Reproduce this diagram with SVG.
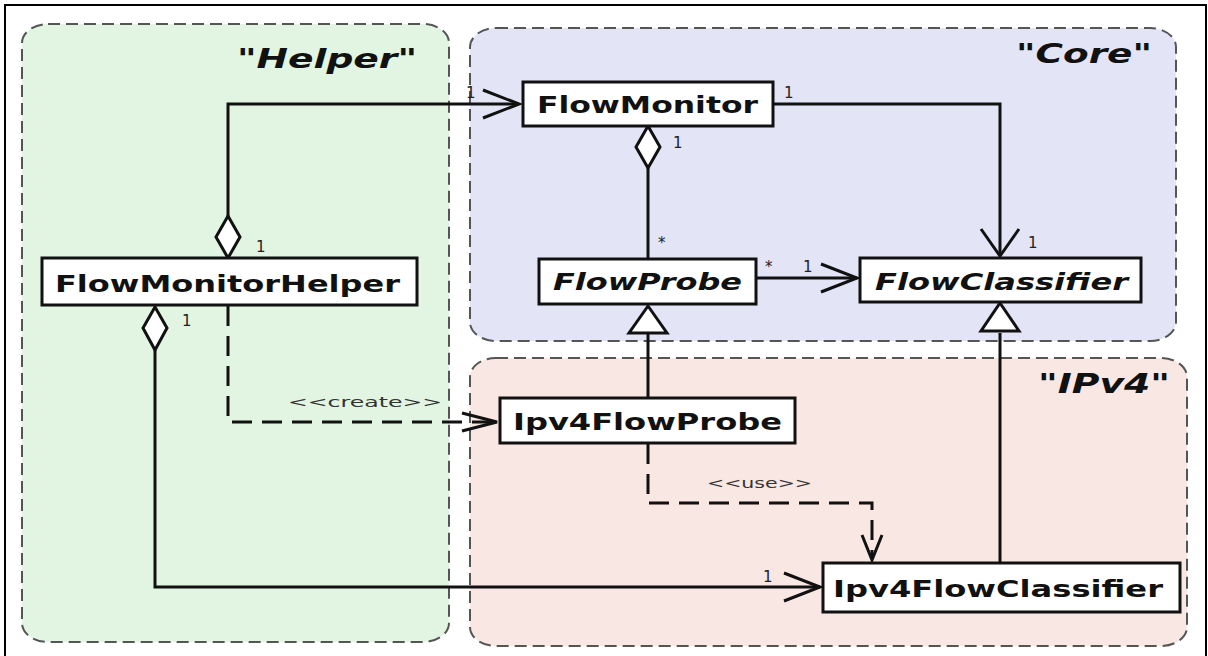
<svg xmlns="http://www.w3.org/2000/svg" width="1208" height="656" viewBox="0 0 1208 656">
  <style>
    .pkg { stroke: #555555; stroke-width: 2; stroke-dasharray: 12 6; }
    .pkg-label { font-family: "DejaVu Sans", "Liberation Sans", sans-serif; font-size: 27px; font-weight: bold; font-style: italic; fill: #111; }
    .box { fill: #ffffff; stroke: #111; stroke-width: 3; }
    .cls { font-family: "DejaVu Sans", "Liberation Sans", sans-serif; font-size: 23px; font-weight: bold; fill: #111; }
    .abstract { font-style: italic; }
    .edge { fill: none; stroke: #111; stroke-width: 3; }
    .dashed { stroke-dasharray: 20 10; }
    .head { fill: none; stroke: #111; stroke-width: 3; stroke-linejoin: miter; }
    .hollow { fill: #ffffff; stroke: #111; stroke-width: 3; stroke-linejoin: miter; }
    .mult { font-family: "DejaVu Sans", "Liberation Sans", sans-serif; font-size: 15px; fill: #222; }
    .stereo { font-family: "DejaVu Sans", "Liberation Sans", sans-serif; font-size: 14px; fill: #333; }
  </style>

  <rect x="0" y="0" width="1208" height="656" fill="#ffffff"/>
  <!-- outer frame -->
  <rect x="5" y="5" width="1201" height="662" fill="none" stroke="#000" stroke-width="2"/>

  <!-- packages -->
  <g id="pkg-helper">
    <rect class="pkg" x="22" y="24" width="427" height="618" rx="26" ry="19" fill="#e1f5e2"/>
    <text class="pkg-label" x="237" y="68" textLength="180" lengthAdjust="spacingAndGlyphs">"Helper"</text>
  </g>
  <g id="pkg-core">
    <rect class="pkg" x="470" y="28" width="706" height="313" rx="26" ry="19" fill="#e3e4f6"/>
    <text class="pkg-label" x="1016" y="63" textLength="136" lengthAdjust="spacingAndGlyphs">"Core"</text>
  </g>
  <g id="pkg-ipv4">
    <rect class="pkg" x="470" y="358" width="717" height="288" rx="26" ry="19" fill="#f9e7e4"/>
    <text class="pkg-label" x="1038" y="393" textLength="132" lengthAdjust="spacingAndGlyphs">"IPv4"</text>
  </g>

  <!-- connectors -->
  <g id="connectors">
    <!-- FlowMonitorHelper aggregates FlowMonitor -->
    <polyline class="edge" points="228,217 228,104 519,104"/>
    <polygon class="hollow" points="228,216 240,237 228,258 216,237"/>
    <polyline class="head" points="483,90 519,104 483,118"/>
    <text class="mult" x="466" y="98">1</text>
    <text class="mult" x="256" y="252">1</text>

    <!-- FlowMonitor to FlowClassifier -->
    <polyline class="edge" points="773,104 1000,104 1000,255"/>
    <polyline class="head" points="981,229 1000,256 1019,229"/>
    <text class="mult" x="784" y="98">1</text>
    <text class="mult" x="1028" y="248">1</text>

    <!-- FlowMonitor aggregates FlowProbe -->
    <line class="edge" x1="648" y1="168" x2="648" y2="259"/>
    <polygon class="hollow" points="648,126 660,147 648,168 636,147"/>
    <text class="mult" x="673" y="148">1</text>
    <text class="mult" x="658" y="248">*</text>

    <!-- FlowProbe to FlowClassifier -->
    <line class="edge" x1="756" y1="278" x2="857" y2="278"/>
    <polyline class="head" points="821,264 857,278 821,292"/>
    <text class="mult" x="765" y="272">*</text>
    <text class="mult" x="803" y="272">1</text>

    <!-- Ipv4FlowProbe inherits FlowProbe -->
    <line class="edge" x1="648" y1="398" x2="648" y2="333"/>
    <polygon class="hollow" points="648,306 667,333 629,333"/>

    <!-- Ipv4FlowClassifier inherits FlowClassifier -->
    <line class="edge" x1="1000" y1="563" x2="1000" y2="333"/>
    <polygon class="hollow" points="1000,303 1019,331 981,331"/>

    <!-- FlowMonitorHelper creates Ipv4FlowProbe -->
    <polyline class="edge dashed" points="228,306 228,422 496,422"/>
    <polyline class="head" points="462,413 497,422 462,431"/>
    <text class="stereo" x="288" y="407" textLength="154" lengthAdjust="spacingAndGlyphs">&lt;&lt;create&gt;&gt;</text>

    <!-- FlowMonitorHelper aggregates Ipv4FlowClassifier -->
    <polyline class="edge" points="155,350 155,587 820,587"/>
    <polygon class="hollow" points="155,307 167,328 155,350 143,328"/>
    <polyline class="head" points="784,573 820,587 784,601"/>
    <text class="mult" x="182" y="326">1</text>
    <text class="mult" x="763" y="582">1</text>

    <!-- Ipv4FlowProbe uses Ipv4FlowClassifier -->
    <polyline class="edge dashed" points="648,444 648,503 872,503 872,558"/>
    <polyline class="head" points="862,535 872,560 882,535"/>
    <text class="stereo" x="707" y="488" font-size="12" textLength="105" lengthAdjust="spacingAndGlyphs">&lt;&lt;use&gt;&gt;</text>
  </g>

  <!-- classes -->
  <g id="node-flowmonitor">
    <rect class="box" x="523" y="82" width="250" height="44"/>
    <text class="cls" x="537" y="113" textLength="221" lengthAdjust="spacingAndGlyphs">FlowMonitor</text>
  </g>
  <g id="node-flowprobe">
    <rect class="box" x="539" y="259" width="217" height="45"/>
    <text class="cls abstract" x="553" y="290" textLength="189" lengthAdjust="spacingAndGlyphs">FlowProbe</text>
  </g>
  <g id="node-flowclassifier">
    <rect class="box" x="860" y="258" width="281" height="44"/>
    <text class="cls abstract" x="875" y="290" textLength="253" lengthAdjust="spacingAndGlyphs">FlowClassifier</text>
  </g>
  <g id="node-flowmonitorhelper">
    <rect class="box" x="42" y="258" width="375" height="47"/>
    <text class="cls" x="55" y="292" textLength="345" lengthAdjust="spacingAndGlyphs">FlowMonitorHelper</text>
  </g>
  <g id="node-ipv4flowprobe">
    <rect class="box" x="500" y="398" width="295" height="45"/>
    <text class="cls" x="513" y="430" textLength="269" lengthAdjust="spacingAndGlyphs">Ipv4FlowProbe</text>
  </g>
  <g id="node-ipv4flowclassifier">
    <rect class="box" x="823" y="563" width="357" height="49"/>
    <text class="cls" x="833" y="597" textLength="330" lengthAdjust="spacingAndGlyphs">Ipv4FlowClassifier</text>
  </g>
</svg>
